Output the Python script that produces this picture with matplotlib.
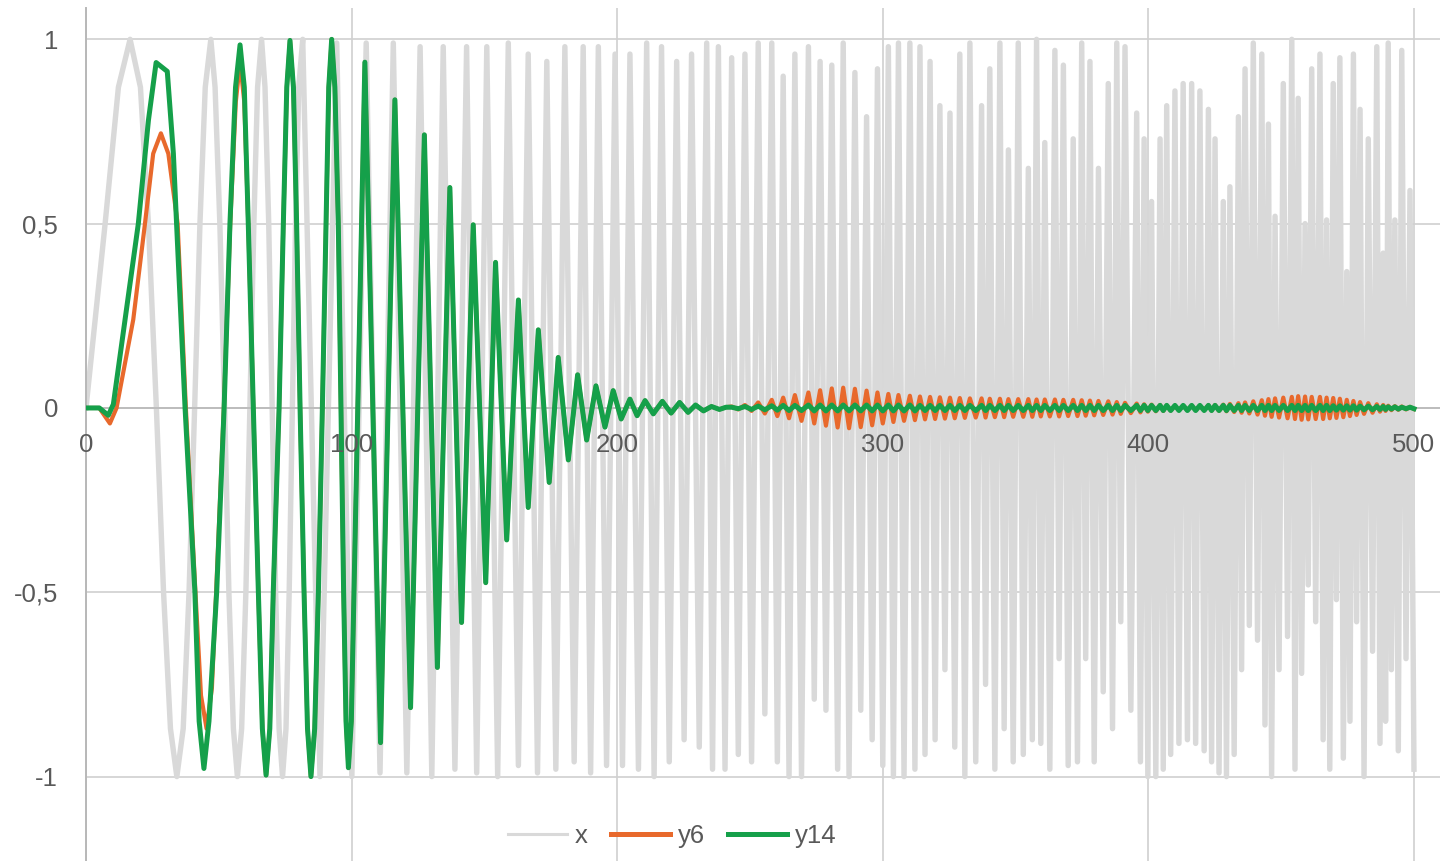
import matplotlib
matplotlib.use('Agg')
import matplotlib.pyplot as plt

# ---- data ----
# x (chirp): first cycles with a few in-between points, then peaks/troughs
x_head_n = [0, 7.2, 12.2, 16.6, 20.5, 23.5, 26.5, 29.2, 31.8, 34.2,
            36.6, 38.8, 40.9, 42.9, 44.9, 47.0, 48.6, 50.4, 52.2, 53.8,
            55.5, 57.0, 58.6, 60.2, 61.7, 63.2, 64.6, 66.1, 67.4, 68.8,
            70.1, 71.4, 72.7, 74.0, 75.3, 76.5, 77.7, 78.9, 80.1, 81.6]
x_head_v = [0, 0.5, 0.87, 1.0, 0.87, 0.5, 0, -0.5, -0.87, -1.0,
            -0.87, -0.5, 0, 0.5, 0.87, 1.0, 0.87, 0.5, 0, -0.5,
            -0.87, -1.0, -0.87, -0.5, 0, 0.5, 0.87, 1.0, 0.87, 0.5,
            0, -0.5, -0.87, -1.0, -0.87, -0.5, 0, 0.5, 0.87, 1.0]

x_peak_n = [94.4, 105.5, 115.7, 125.8, 134.5, 143.3, 150.9, 159.0, 166.5, 173.5,
            180.3, 187.2, 192.9, 199.2, 204.8, 211.1, 216.7, 222.4, 228.0, 233.7,
            238.1, 243.1, 248.1, 253.1, 258.2, 262.5, 266.9, 272.0, 276.4, 280.8,
            285.1, 289.5, 293.9, 298.0, 302.1, 305.9, 310.2, 314.0, 317.8, 321.5,
            325.3, 329.0, 332.8, 337.2, 340.3, 344.1, 347.3, 351.0, 354.8, 357.9,
            361.0, 364.8, 368.0, 371.7, 374.9, 378.0, 381.2, 384.9, 388.1, 391.2,
            395.6, 398.4, 401.2, 404.4, 406.9, 410.0, 413.1, 416.3, 419.4, 422.6,
            425.1, 428.2, 430.7, 433.9, 436.4, 439.5, 442.7, 445.2, 447.7, 450.8,
            454.0, 456.4, 459.0, 461.5, 464.6, 467.1, 469.6, 472.1, 474.7, 477.2,
            479.7, 482.8, 486.0, 488.4, 490.3, 492.8, 495.4, 498.5]
x_peak_v = [0.99, 0.99, 0.99, 0.98, 0.98, 0.98, 0.98, 0.99, 0.96, 0.94,
            0.98, 0.98, 0.98, 0.96, 0.96, 0.99, 0.98, 0.94, 0.96, 0.99,
            0.98, 0.95, 0.96, 0.99, 0.99, 0.90, 0.96, 0.98, 0.94, 0.93,
            0.99, 0.91, 0.79, 0.92, 0.98, 0.99, 0.99, 0.98, 0.94, 0.82,
            0.80, 0.96, 0.99, 0.82, 0.92, 0.99, 0.70, 0.99, 0.65, 1.0,
            0.72, 0.97, 0.93, 0.73, 0.99, 0.94, 0.65, 0.88, 0.99, 0.98,
            0.80, 0.73, 0.56, 0.73, 0.82, 0.86, 0.88, 0.88, 0.86, 0.81,
            0.73, 0.56, 0.60, 0.79, 0.92, 0.99, 0.96, 0.77, 0.52, 0.88,
            1.0, 0.84, 0.50, 0.92, 0.96, 0.51, 0.88, 0.95, 0.37, 0.96,
            0.81, 0.73, 0.98, 0.42, 0.99, 0.51, 0.97, 0.59]

x_trough_n = [88.1, 100.1, 110.7, 120.8, 130.2, 138.9, 147.1, 155.0, 162.8, 170.0,
              176.9, 183.8, 190.0, 196.0, 202.0, 208.0, 213.9, 219.6, 225.2, 230.9,
              235.9, 240.6, 245.6, 250.6, 255.6, 260.3, 264.7, 269.4, 274.2, 278.6,
              283.0, 287.3, 291.7, 296.0, 300.0, 304.0, 308.0, 312.1, 315.9, 319.7,
              323.4, 327.1, 330.9, 335.0, 338.7, 342.2, 345.7, 349.1, 352.9, 356.3,
              359.5, 362.9, 366.4, 369.8, 373.3, 376.4, 379.6, 383.0, 386.5, 389.6,
              393.4, 397.0, 399.8, 402.8, 405.6, 408.4, 411.5, 414.7, 417.8, 421.0,
              423.8, 426.6, 429.4, 432.3, 435.1, 438.0, 441.1, 443.9, 446.4, 449.2,
              452.4, 455.2, 457.7, 460.2, 463.0, 465.8, 468.3, 470.8, 473.4, 475.9,
              478.4, 481.2, 484.4, 487.2, 489.3, 491.5, 494.1, 497.0, 500.0]
x_trough_v = [-1.0, -1.0, -0.99, -0.99, -1.0, -0.98, -0.99, -1.0, -0.97, -0.99,
              -0.98, -0.96, -0.99, -0.97, -0.97, -0.98, -1.0, -0.96, -0.90, -0.92,
              -0.98, -0.98, -0.94, -0.96, -0.83, -0.96, -1.0, -1.0, -0.79, -0.82,
              -0.98, -1.0, -0.82, -0.90, -0.97, -1.0, -1.0, -0.98, -0.94, -0.90,
              -0.71, -0.92, -1.0, -0.96, -0.75, -0.98, -0.87, -0.96, -0.94, -0.90,
              -0.91, -0.98, -0.68, -0.97, -0.96, -0.68, -0.96, -0.77, -0.87, -0.58,
              -0.82, -0.96, -1.0, -1.0, -0.98, -0.94, -0.91, -0.90, -0.91, -0.93,
              -0.96, -0.99, -1.0, -0.94, -0.71, -0.59, -0.63, -0.86, -1.0, -0.71,
              -0.62, -0.98, -0.72, -0.48, -0.58, -0.90, -0.98, -0.52, -0.95, -0.85,
              -0.58, -1.0, -0.66, -0.91, -0.85, -0.71, -0.93, -0.68, -0.98]

# y14 (green) up to where it dies out
y14_n = [0, 5, 8.4, 10.3, 14.7, 19.7, 23.5, 26.4, 30.6, 32.9,
         34.1, 37.3, 41.0, 42.6, 44.4, 46.3, 49.2, 52.0, 54.2, 56.3,
         58.0, 59.6, 61.1, 63.0, 64.9, 66.4, 67.8, 69.2, 70.5, 72.7,
         74.3, 75.6, 76.8, 78.1, 79.3, 80.6, 82.1, 83.4, 84.7, 86.1,
         87.5, 89.0, 90.4, 91.4, 92.5, 93.7, 95.0, 96.0, 97.0, 97.9,
         98.8, 99.9, 105.0, 110.9,
         116.3, 122.2, 127.4, 132.3, 137.0, 141.4, 145.8, 150.5, 154.2, 158.4,
         162.8, 166.5, 170.3, 174.4, 177.8, 181.6, 185.1, 188.5, 192.0, 195.4,
         198.5, 201.5, 204.8, 207.5, 210.5, 213.6, 217.0, 220.3, 223.5, 226.7,
         229.5, 232.5, 235.5, 238.5, 241.0]
y14_v = [0, 0, -0.02, 0.01, 0.24, 0.5, 0.78, 0.937, 0.913, 0.69,
         0.5, 0.0, -0.5, -0.85, -0.978, -0.85, -0.5, 0.0, 0.5, 0.87,
         0.985, 0.87, 0.5, 0.0, -0.5, -0.87, -0.996, -0.87, -0.5, 0.0,
         0.5, 0.87, 0.997, 0.87, 0.5, 0.0, -0.5, -0.87, -1.0, -0.87,
         -0.5, 0.0, 0.5, 0.87, 1.0, 0.87, 0.5, 0.0, -0.5, -0.85,
         -0.976, -0.85, 0.938, -0.908,
         0.836, -0.813, 0.741, -0.704, 0.598, -0.582, 0.497, -0.474, 0.395, -0.358,
         0.293, -0.270, 0.212, -0.202, 0.137, -0.141, 0.090, -0.087, 0.06, -0.052,
         0.047, -0.030, 0.024, -0.021, 0.020, -0.016, 0.018, -0.014, 0.015, -0.012,
         0.008, -0.008, 0.004, -0.004, 0.002]

# y6 (orange) where it differs from y14 at the start
y6_head_n = [0, 5, 9.0, 11.5, 17.8, 22.2, 25.3, 28.2, 31.0, 34.5,
             37.6, 41.2, 43.3, 45.4, 47.4, 49.0, 51.9, 54.3, 56.4, 58.0,
             59.6, 61.1, 63.0]
y6_head_v = [0, 0, -0.042, 0.0, 0.24, 0.5, 0.69, 0.745, 0.69, 0.5,
             0.0, -0.5, -0.78, -0.87, -0.76, -0.5, 0.0, 0.5, 0.83, 0.94,
             0.83, 0.5, 0.0]

# small residual ripple after n~243, one amplitude per chirp cycle
y6_tail_amp = [0.004, 0.008, 0.015, 0.022, 0.028, 0.035, 0.042, 0.048, 0.053, 0.055,
               0.052, 0.047, 0.042, 0.038, 0.035, 0.033, 0.031, 0.030, 0.029, 0.028,
               0.027, 0.026, 0.026, 0.025, 0.025, 0.024, 0.024, 0.024, 0.023, 0.023,
               0.023, 0.022, 0.022, 0.021, 0.020, 0.019, 0.018, 0.016, 0.014, 0.012,
               0.010, 0.009, 0.008, 0.007, 0.006, 0.006, 0.006, 0.006, 0.007, 0.008,
               0.009, 0.011, 0.013, 0.015, 0.018, 0.021, 0.024, 0.026, 0.028, 0.030,
               0.032, 0.031, 0.030, 0.030, 0.028, 0.027, 0.025, 0.022, 0.019, 0.016,
               0.013, 0.010, 0.008, 0.006, 0.005, 0.004, 0.003]
y14_tail_amp = [0.002, 0.004, 0.005, 0.006, 0.007, 0.007, 0.008, 0.008, 0.008, 0.008,
                0.008, 0.008, 0.008, 0.008, 0.008, 0.008, 0.007, 0.007, 0.007, 0.007,
                0.007, 0.007, 0.007, 0.007, 0.007, 0.007, 0.007, 0.007, 0.007, 0.007,
                0.007, 0.007, 0.007, 0.007, 0.007, 0.007, 0.007, 0.007, 0.007, 0.007,
                0.007, 0.007, 0.007, 0.007, 0.007, 0.007, 0.007, 0.007, 0.007, 0.007,
                0.007, 0.007, 0.007, 0.007, 0.007, 0.007, 0.007, 0.007, 0.007, 0.007,
                0.007, 0.007, 0.007, 0.007, 0.007, 0.006, 0.006, 0.006, 0.006, 0.005,
                0.005, 0.004, 0.004, 0.003, 0.003, 0.002, 0.002]

y_ticks = [-1, -0.5, 0, 0.5, 1]
y_ticklabels = ['-1', '-0,5', '0', '0,5', '1']
x_ticks = [0, 100, 200, 300, 400, 500]

# ---- build the series ----
ext = sorted(zip(x_peak_n + x_trough_n, x_peak_v + x_trough_v))
gray_n = x_head_n + [p[0] for p in ext]
gray_v = x_head_v + [p[1] for p in ext]

start = x_peak_n.index(243.1)


def add_tail(n, v, amps):
    n, v = list(n), list(v)
    for i, a in enumerate(amps):
        n += [x_peak_n[start + i], x_trough_n[start + 1 + i]]
        v += [a, -a]
    return n, v


g_n, g_v = add_tail(y14_n, y14_v, y14_tail_amp)
rest = [(a, b) for a, b in zip(y14_n, y14_v) if a > y6_head_n[-1]]
o_n, o_v = add_tail(y6_head_n + [r[0] for r in rest],
                    y6_head_v + [r[1] for r in rest], y6_tail_amp)

# ---- plot ----
plt.rcParams['font.family'] = ['Liberation Sans', 'DejaVu Sans']
txt = '#595959'
grid_c = '#d0d0d0'

fig = plt.figure(figsize=(14.4, 8.61), dpi=100)
ax = fig.add_axes([86 / 1440, 0, 1354 / 1440, 853 / 861])
ax.set_xlim(0, 509.8)
ax.set_ylim(-1.229, 1.085)

ax.plot(gray_n, gray_v, color='#d9d9d9', lw=3.9, label='x', zorder=2,
        solid_joinstyle='round')
ax.plot(o_n, o_v, color='#e8692c', lw=3.0, label='y6', zorder=3,
        solid_joinstyle='round')
ax.plot(g_n, g_v, color='#15a04a', lw=3.6, label='y14', zorder=4,
        solid_joinstyle='round')

ax.set_yticks(y_ticks)
ax.set_yticklabels(y_ticklabels)
ax.set_xticks(x_ticks)
ax.set_xticklabels([])
ax.grid(True, color=grid_c, lw=1.2, zorder=0)
ax.set_axisbelow(True)

# x labels sit just under the zero line, on top of the curves
for t in x_ticks:
    ax.text(t, -0.10, str(t), ha='center', va='center', fontsize=18.5,
            color=txt, zorder=10)

for s in ['top', 'right']:
    ax.spines[s].set_visible(False)
ax.spines['left'].set_color('#b8b8b8')
ax.spines['left'].set_linewidth(1.4)
ax.spines['bottom'].set_position(('data', 0))
ax.spines['bottom'].set_color('#b8b8b8')
ax.spines['bottom'].set_linewidth(1.2)
ax.tick_params(axis='both', length=0, labelsize=18.5, labelcolor=txt)
ax.tick_params(axis='y', pad=20)

leg = ax.legend(loc='center', bbox_to_anchor=(0.433, 0.029), ncol=3,
                frameon=False, fontsize=18.5, handlelength=2.3,
                handletextpad=0.3, columnspacing=0.9, labelcolor=txt)
for line, w in zip(leg.get_lines(), [2.2, 3.6, 3.6]):
    line.set_linewidth(w)

fig.savefig('out.png', dpi=100)
